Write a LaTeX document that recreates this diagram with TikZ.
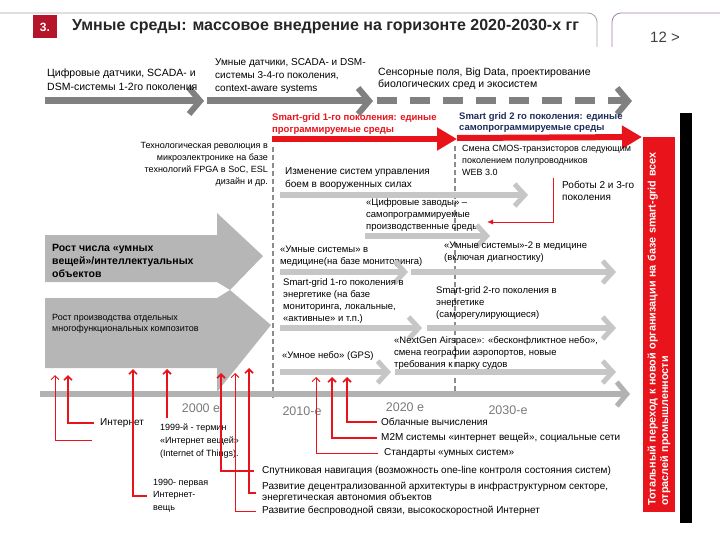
\documentclass[tikz,border=0pt]{standalone}
\usepackage{fontspec}
\setmainfont{Liberation Sans}
\usetikzlibrary{arrows.meta}
\definecolor{slidered}{HTML}{E8131B}
\definecolor{numred}{HTML}{B4152B}
\definecolor{navytext}{HTML}{1F2D5C}
\definecolor{darkarrow}{HTML}{808080}
\definecolor{lightarrow}{HTML}{C6C6C6}
\definecolor{dashgrey}{HTML}{8C8C8C}
\definecolor{framegrey}{HTML}{A3A3AD}
\definecolor{yeargrey}{HTML}{7A7A7A}
\begin{document}
\begin{tikzpicture}[x=1pt, y=-1pt, font=\fontsize{10}{12}\selectfont,
    txt/.style={anchor=west, align=left, inner sep=0pt},
    smalltxt/.style={txt, font=\fontsize{9}{12.5}\selectfont},
    midtxt/.style={txt, font=\fontsize{9.5}{12}\selectfont},
    toparrow/.style={draw=darkarrow, line width=7pt,
                     -{Straight Barb[length=11pt, width=26pt, line width=6pt]}},
    greyarrow/.style={draw=lightarrow, line width=6pt,
                      -{Straight Barb[length=10pt, width=22pt, line width=5pt]}},
    redarrow/.style={draw=slidered, line width=6pt,
                     -{Triangle[length=20pt, width=22pt]}},
    divider/.style={draw=dashgrey, line width=2.5pt, dash pattern=on 5pt off 3pt},
    upthick/.style={draw=slidered, line width=2pt,
                    -{Straight Barb[length=4pt, width=8pt, line width=1.6pt]}},
    upthin/.style={draw=slidered, line width=0.9pt,
                   -{Straight Barb[length=4pt, width=8pt]}},
    bigarrow/.style={fill=lightarrow!92!black},
    year/.style={text=yeargrey, font=\fontsize{12.5}{14}\selectfont, inner sep=0pt},
    redbox/.style={fill=slidered, text=white, rotate=90, inner sep=0pt,
                   minimum width=375pt, minimum height=32pt, text width=362pt,
                   align=left, font=\bfseries\fontsize{10.8}{12.5}\selectfont}]
  \useasboundingbox (0,0) rectangle (720,540);

  % header
  \draw[framegrey, line width=0.8pt, rounded corners=9pt] (0,13) -- (597,13) -- (597,47);
  \draw[framegrey!80!violet, line width=0.8pt, rounded corners=9pt] (612,47) -- (612,13) -- (720,13);
  \node[fill=numred, text=white, font=\bfseries\fontsize{12}{14}\selectfont,
        minimum width=24pt, minimum height=23pt, inner sep=0pt] (secnum) at (45,27) {3.};
  \node[txt, font=\bfseries\fontsize{16}{18}\selectfont, text=black!85] (title) at (72,27)
    {Умные среды: массовое внедрение на горизонте 2020-2030-х гг};
  \node[txt, font=\fontsize{15}{18}\selectfont, text=black!75] (page) at (650,37) {12 >};

  % generations of sensors
  \coordinate (gen1start) at (45,101);
  \coordinate (gen1end) at (204,101);
  \coordinate (gen2start) at (207,101);
  \coordinate (gen2end) at (373,101);
  \coordinate (gen3start) at (377,101);
  \coordinate (gen3end) at (632,101);
  \draw[toparrow] (gen1start) -- (gen1end);
  \draw[toparrow] (gen2start) -- (gen2end);
  \draw[toparrow, dash pattern=on 20pt off 13pt] (gen3start) -- (gen3end);
  \node[txt, font=\fontsize{10.5}{14}\selectfont] (gen1) at (47,80)
    {Цифровые датчики, SCADA- и\\DSM-системы 1-2го поколения};
  \node[txt, font=\fontsize{10}{13}\selectfont] (gen2) at (215,76)
    {Умные датчики, SCADA- и DSM-\\системы 3-4-го поколения,\\context-aware systems};
  \node[txt, font=\fontsize{10.5}{12}\selectfont] (gen3) at (378,79)
    {Сенсорные поля, Big Data, проектирование\\биологических сред и экосистем};

  % smart grid generations
  \node[txt, text=slidered, font=\bfseries\fontsize{9.5}{12}\selectfont] (sgone) at (272,124)
    {Smart-grid 1-го поколения: единые\\программируемые среды};
  \node[txt, text=navytext, font=\bfseries\fontsize{9.5}{11}\selectfont] (sgtwo) at (459,123)
    {Smart grid 2 го поколения: единые\\самопрограммируемые среды};
  \coordinate (sgonestart) at (272,139);
  \coordinate (sgoneend) at (457,139);
  \coordinate (sgtwostart) at (457,138);
  \coordinate (sgtwoend) at (642,137);
  \draw[redarrow] (sgonestart) -- (sgoneend);
  \draw[redarrow] (sgtwostart) -- (sgtwoend);

  % dividers
  \draw[divider] (273,147) -- (273,398);
  \draw[divider] (455,146) -- (455,396);

  \node[anchor=east, align=right, inner sep=0pt, font=\fontsize{9}{12}\selectfont] (microel) at (268,164)
    {Технологическая революция в\\микроэлектронике на базе\\технологий FPGA в SoC, ESL\\дизайн и др.};

  % big arrows
  \fill[bigarrow] (45,235) -- (217,235) -- (217,213) -- (263,256) -- (230,290) -- (217,282) -- (45,282) -- cycle;
  \node[txt, font=\bfseries\fontsize{10.5}{13}\selectfont] (things) at (52,261)
    {Рост числа «умных\\вещей»/интеллектуальных\\объектов};
  \fill[bigarrow] (45,298) -- (217,298) -- (230,290) -- (271,325) -- (217,392) -- (217,368) -- (45,368) -- cycle;
  \node[txt, font=\fontsize{9}{11.5}\selectfont] (composites) at (52,324)
    {Рост производства отдельных\\многофункциональных композитов};

  % trends
  \node[txt, font=\fontsize{10}{13}\selectfont] (military) at (285,178.5)
    {Изменение систем управления\\боем в вооруженных силах};
  \draw[greyarrow] (280,195) -- (528,195);
  \node[smalltxt, font=\fontsize{9}{12}\selectfont] (cmos) at (462,160)
    {Смена CMOS-транзисторов следующим\\поколением полупроводников\\WEB 3.0};
  \node[txt] (robots) at (562,191) {Роботы 2 и 3-го\\поколения};
  \node[midtxt] (factory) at (366,215)
    {«Цифровые заводы» –\\самопрограммируемые\\производственные среды};
  \draw[greyarrow] (365,236) -- (490,236);
  \coordinate (robotsbar) at (553,178);
  \coordinate (factoryend) at (487,222);
  \draw[draw=slidered, line width=0.9pt, -{Latex[length=6pt, width=5pt]}] (robotsbar) |- (factoryend);

  \node[midtxt] (medone) at (280,256) {«Умные системы» в\\медицине(на базе мониторинга)};
  \draw[greyarrow] (280,272) -- (408,272);
  \node[midtxt] (medtwo) at (444,252) {«Умные системы»-2 в медицине\\(включая диагностику)};
  \draw[greyarrow] (411,272) -- (616,272);

  \node[midtxt] (energyone) at (283,301)
    {Smart-grid 1-го поколения в\\энергетике (на базе\\мониторинга, локальные,\\«активные» и т.п.)};
  \draw[greyarrow] (280,328) -- (422,328);
  \node[midtxt] (energytwo) at (436,303)
    {Smart-grid 2-го поколения в\\энергетике\\(саморегулирующиеся)};
  \draw[greyarrow] (427,328) -- (616,328);

  \node[midtxt] (skyone) at (282,356) {«Умное небо» (GPS)};
  \draw[greyarrow] (280,372) -- (391,372);
  \node[midtxt] (skytwo) at (394,353)
    {«NextGen Airspace»: «бесконфликтное небо»,\\смена географии аэропортов, новые\\требования к парку судов};
  \draw[greyarrow] (395,372) -- (616,372);

  % time axis
  \coordinate (axisstart) at (40,394);
  \coordinate (axisend) at (630,394);
  \draw[draw=lightarrow!90!black, line width=5.5pt,
        -{Straight Barb[length=10pt, width=24pt, line width=5pt]}] (axisstart) -- (axisend);
  \node[year] (ytwothousand) at (201,408) {2000 е};
  \node[year] (ytwentyten) at (302,411) {2010-е};
  \node[year] (ytwentytwenty) at (405,407) {2020 е};
  \node[year] (ytwentythirty) at (508,410) {2030-е};

  % events
  \coordinate (tipA) at (55,375);
  \coordinate (tipB) at (68,375);
  \coordinate (tipC) at (133,369);
  \coordinate (tipD) at (167,369);
  \coordinate (tipE) at (221,373);
  \coordinate (tipF) at (235,373);
  \coordinate (tipG) at (249,368);
  \coordinate (tipH) at (316,377);
  \coordinate (tipI) at (332,377);
  \coordinate (tipJ) at (347,377);
  \coordinate (looseend) at (92,440);

  \node[txt] (internet) at (100,423) {Интернет};
  \node[smalltxt] (firstthing) at (153,495.5) {1990- первая\\Интернет-\\вещь};
  \node[smalltxt, font=\fontsize{9}{13}\selectfont] (iotterm) at (160,441)
    {1999-й - термин\\«Интернет вещей»\\(Internet of Things).};
  \node[txt] (satnav) at (262,471)
    {Спутниковая навигация (возможность one-line контроля состояния систем)};
  \node[txt, font=\fontsize{10}{11}\selectfont] (decentral) at (262,492.5)
    {Развитие децентрализованной архитектуры в инфраструктурном секторе,\\энергетическая автономия объектов};
  \node[txt] (wireless) at (262,511) {Развитие беспроводной связи, высокоскоростной Интернет};
  \node[txt] (cloud) at (381,422) {Облачные вычисления};
  \node[txt] (mtom) at (381,438) {M2M системы «интернет вещей», социальные сети};
  \node[txt] (standards) at (384,453) {Стандарты «умных систем»};

  \draw[upthin] (looseend) -| (tipA);
  \draw[upthick] ([xshift=-6pt]internet.west) -| (tipB);
  \draw[upthick] ([xshift=-6pt]firstthing.west) -| (tipC);
  \draw[upthick] ([yshift=6pt]iotterm.north -| tipD) -- (tipD);
  \draw[upthick] ([xshift=-8pt]satnav.west) -| (tipE);
  \draw[upthin] ([xshift=-6pt]wireless.west) -| (tipF);
  \draw[upthick] ([xshift=-6pt]decentral.west) -| (tipG);
  \draw[upthin] ([xshift=-6pt]standards.west) -| (tipH);
  \draw[upthick] ([xshift=-4pt]mtom.west) -| (tipI);
  \draw[upthick] ([xshift=-4pt]cloud.west) -| (tipJ);

  % conclusion
  \node[redbox] (total) at (659,324.5)
    {Тотальный переход к новой организации на базе smart-grid всех\\отраслей промышленности};
  \fill[black] (680,113) rectangle (692,523);
\end{tikzpicture}
\end{document}
